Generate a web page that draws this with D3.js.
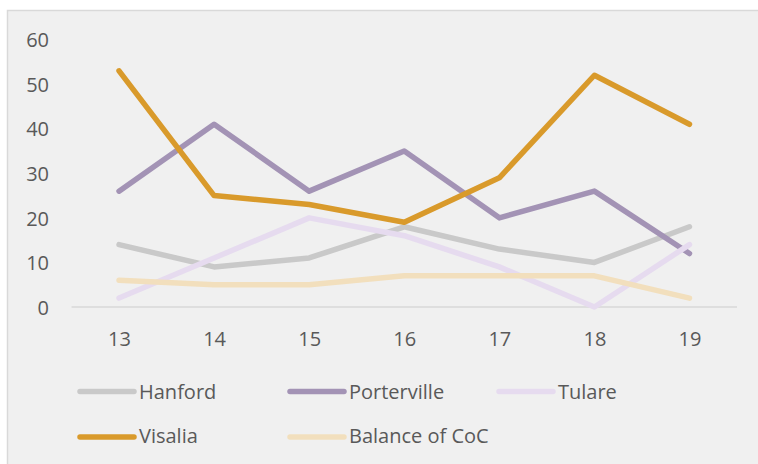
<!DOCTYPE html>
<html>
<head>
<meta charset="utf-8">
<script src="https://cdn.jsdelivr.net/npm/d3@7"></script>
<style>
  html, body { margin: 0; padding: 0; background: #ffffff; }
  svg { display: block; }
  text { font-family: "Open Sans", sans-serif; fill: #595959; }
</style>
</head>
<body>
<svg id="chart" width="758" height="464"></svg>
<script>
const categories = ["13", "14", "15", "16", "17", "18", "19"];
const yTicks = [0, 10, 20, 30, 40, 50, 60];
const seriesNames = ["Hanford", "Porterville", "Tulare", "Visalia", "Balance of CoC"];
const hanford     = [14, 9, 11, 18, 13, 10, 18];
const porterville = [26, 41, 26, 35, 20, 26, 12];
const tulare      = [2, 11, 20, 16, 9, 0, 14];
const visalia     = [53, 25, 23, 19, 29, 52, 41];
const balanceCoC  = [6, 5, 5, 7, 7, 7, 2];
const seriesColors = ["#c9c9c9", "#a393b5", "#e6dbef", "#d99a2b", "#f2dfbd"];

const seriesData = [hanford, porterville, tulare, visalia, balanceCoC];

const svg = d3.select("#chart");

// chart area background
svg.append("rect")
  .attr("x", 7.5).attr("y", 10.5)
  .attr("width", 800).attr("height", 500)
  .attr("fill", "#f0f0f0")
  .attr("stroke", "#d9d9d9")
  .attr("stroke-width", 1.5);

const x = d3.scalePoint().domain(categories).range([71.5, 737]).padding(0.5);
const y = d3.scaleLinear().domain([0, 60]).range([307, 39.6]);

// y axis labels
const yAxis = svg.append("g").attr("transform", "translate(49,0)")
  .call(d3.axisLeft(y).tickValues(yTicks).tickSize(0).tickPadding(0).tickFormat(d3.format("d")));
yAxis.select(".domain").remove();
yAxis.selectAll("text")
  .style("font-size", "20px")
  .style("font-family", "'Open Sans', sans-serif")
  .attr("fill", "#595959")
  .attr("dy", "0.36em");

// x axis line
svg.append("line")
  .attr("x1", 71.5).attr("x2", 737)
  .attr("y1", y(0)).attr("y2", y(0))
  .attr("stroke", "#d9d9d9").attr("stroke-width", 1.5);

const xAxis = svg.append("g").attr("transform", `translate(0,${y(0)})`)
  .call(d3.axisBottom(x).tickSize(0).tickPadding(0));
xAxis.select(".domain").remove();
xAxis.selectAll("text")
  .style("font-size", "20px")
  .style("font-family", "'Open Sans', sans-serif")
  .attr("fill", "#595959")
  .attr("dy", null)
  .attr("y", 39);

// lines
const line = d3.line()
  .x((d, i) => x(categories[i]))
  .y(d => y(d));

seriesData.forEach((vals, k) => {
  svg.append("path")
    .datum(vals)
    .attr("d", line)
    .attr("fill", "none")
    .attr("stroke", seriesColors[k])
    .attr("stroke-width", 5.5)
    .attr("stroke-linejoin", "round")
    .attr("stroke-linecap", "round");
});

// legend
const legendPos = [
  { sx: 80, ty: 399, ly: 391.5 },
  { sx: 290, ty: 399, ly: 391.5 },
  { sx: 499, ty: 399, ly: 391.5 },
  { sx: 80, ty: 443, ly: 437 },
  { sx: 290, ty: 443, ly: 437 }
];
const legend = svg.append("g");
seriesNames.forEach((name, k) => {
  const p = legendPos[k];
  legend.append("line")
    .attr("x1", p.sx).attr("x2", p.sx + 54)
    .attr("y1", p.ly).attr("y2", p.ly)
    .attr("stroke", seriesColors[k])
    .attr("stroke-width", 5.5)
    .attr("stroke-linecap", "round");
  legend.append("text")
    .attr("x", p.sx + 59)
    .attr("y", p.ty)
    .style("font-size", "20px")
    .text(name);
});
</script>
</body>
</html>
